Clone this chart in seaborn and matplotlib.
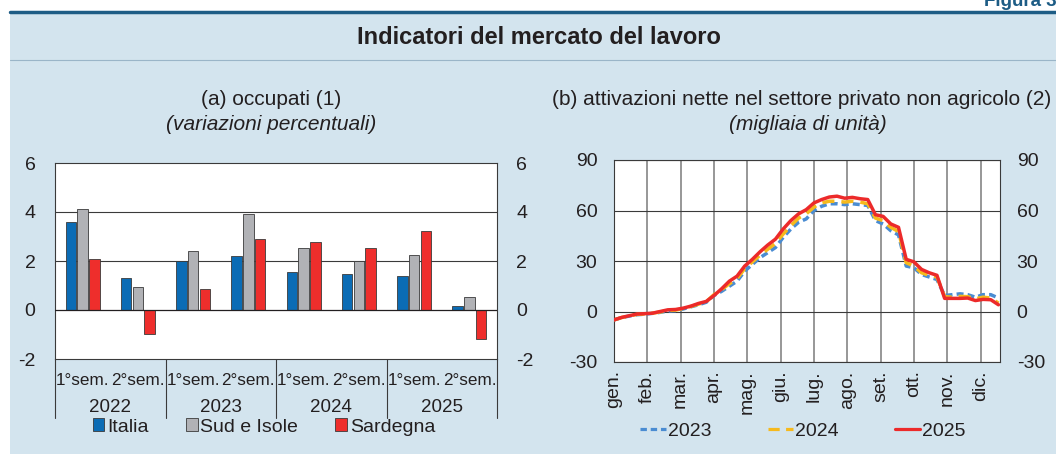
import matplotlib
matplotlib.use('Agg')
import matplotlib.pyplot as plt
import matplotlib.transforms as mtransforms
from matplotlib.lines import Line2D
from matplotlib.patches import Patch, Rectangle
import seaborn as sns
import pandas as pd

# pannello (a): occupati, variazioni percentuali
anni = ['2022', '2023', '2024', '2025']
semestri = ['1°sem.', '2°sem.']
serie_bar = ['Italia', 'Sud e Isole', 'Sardegna']
italia = [3.59, 1.31, 2.00, 2.21, 1.54, 1.45, 1.39, 0.17]
sud_isole = [4.11, 0.94, 2.39, 3.90, 2.54, 2.00, 2.25, 0.52]
sardegna = [2.08, -0.97, 0.86, 2.90, 2.79, 2.54, 3.21, -1.20]

# pannello (b): attivazioni nette, migliaia di unita' (dati settimanali)
mesi = ['gen.', 'feb.', 'mar.', 'apr.', 'mag.', 'giu.', 'lug.', 'ago.',
        'set.', 'ott.', 'nov.', 'dic.']
settimane = list(range(51))
att_2023 = [-5, -3.6, -2.7, -1.9, -1.6, -1.1, -0.5, 0.3, 0.5, 1.5,
            2.8, 4.0, 5.5, 9.5, 12, 15, 18, 24, 28, 32,
            35, 38, 44, 49, 53, 55, 60, 62.5, 64, 64,
            63.5, 64, 63.5, 63, 54, 52, 48, 45.5, 27, 26,
            22, 20.5, 19, 9.5, 10, 10.5, 10, 8.5, 10, 10,
            8]
att_2024 = [-5, -3.6, -2.6, -1.7, -1.5, -1.0, -0.3, 0.6, 0.8, 1.8,
            3.0, 4.4, 5.8, 10, 13, 16.5, 19.5, 25.5, 29.5, 33.5,
            37, 40.5, 46, 51, 55.5, 58, 62, 64.5, 65.5, 65.5,
            65, 65.5, 65, 64, 55.5, 54, 50, 47.5, 29, 27,
            23, 21.5, 20.5, 8.8, 8.5, 9, 8.8, 7.5, 8.5, 8,
            5]
att_2025 = [-5, -3.5, -2.5, -1.5, -1.3, -1.0, 0.0, 1.0, 1.2, 2.0,
            3.2, 4.8, 6.0, 9.5, 13.5, 18, 21, 27, 31, 35.5,
            39.5, 43, 49, 54, 58, 60.5, 64.5, 66.5, 68, 68.5,
            67.3, 67.8, 67, 66.5, 57.5, 56.5, 52, 50, 31, 29.5,
            25, 23, 21.5, 7.8, 7.8, 7.8, 8, 6.5, 7.2, 7,
            4]

sfondo = '#d3e4ee'
colori_bar = {'Italia': '#0b6cb5', 'Sud e Isole': '#b1b2b6', 'Sardegna': '#ee2e2c'}
colori_lin = {'2023': '#4a8cd2', '2024': '#f6b91c', '2025': '#ec2a2a'}
tratti = {'2023': (2, 1.2), '2024': (3.5, 2), '2025': ''}

periodi = [f'{a} {s}' for a in anni for s in semestri]
df_bar = pd.DataFrame({
    'periodo': periodi * 3,
    'serie': [s for s in serie_bar for _ in periodi],
    'valore': italia + sud_isole + sardegna,
})
df_lin = pd.DataFrame({
    'settimana': settimane * 3,
    'anno': [a for a in colori_lin for _ in settimane],
    'valore': att_2023 + att_2024 + att_2025,
})

sns.set_theme(style='white')
plt.rcParams['font.family'] = ['Liberation Sans', 'DejaVu Sans']
plt.rcParams['axes.unicode_minus'] = False
plt.rcParams['text.color'] = '#231f20'
plt.rcParams['xtick.color'] = '#231f20'
plt.rcParams['ytick.color'] = '#231f20'

W, H = 1056, 454
fig = plt.figure(figsize=(W / 100, H / 100), dpi=100)
fig.patch.set_facecolor('white')

# fondo azzurro, filetto superiore e separatore del titolo
fig.patches.append(Rectangle((10 / W, 0), 1, 1 - 13 / H, transform=fig.transFigure,
                             facecolor=sfondo, edgecolor='none', zorder=-10))
fig.lines.append(Line2D([10 / W, 1], [1 - 12 / H] * 2, transform=fig.transFigure,
                        color='#1d5c85', lw=2.5))
fig.lines.append(Line2D([10 / W, 1], [1 - 60 / H] * 2, transform=fig.transFigure,
                        color='#9ab5c8', lw=0.8))
fig.text(984 / W, 1 - 1 / H, 'Figura 3.', ha='left', va='center', fontsize=13.5,
         weight='bold', color='#1d5c85')
fig.text(539 / W, 1 - 37 / H, 'Indicatori del mercato del lavoro', ha='center',
         va='center', fontsize=17, weight='bold')

fig.text(271 / W, 1 - 100 / H, '(a) occupati (1)', ha='center', va='center', fontsize=15)
fig.text(271 / W, 1 - 125 / H, '(variazioni percentuali)', ha='center', va='center',
         fontsize=15, style='italic')
fig.text(802 / W, 1 - 100 / H, '(b) attivazioni nette nel settore privato non agricolo (2)',
         ha='center', va='center', fontsize=15)
fig.text(808 / W, 1 - 125 / H, '(migliaia di unità)', ha='center', va='center',
         fontsize=15, style='italic')

# ---- pannello (a)
ax1 = fig.add_axes([55 / W, 1 - 359 / H, 442 / W, 196 / H])
ax1.set_facecolor('white')
sns.barplot(data=df_bar, x='periodo', y='valore', hue='serie', order=periodi,
            hue_order=serie_bar, palette=colori_bar, saturation=1, width=0.64,
            gap=0.12, edgecolor='#3a3a3a', linewidth=0.6, ax=ax1, legend=False,
            zorder=3)
ax1.set_ylim(-2, 6)
ax1.set_yticks([-2, 0, 2, 4, 6])
ax1.set_xlim(-0.5, 7.5)
for v in [2, 4]:
    ax1.axhline(v, color='#3a3a3a', lw=0.8, zorder=1)
ax1.axhline(0, color='#231f20', lw=0.9, zorder=4)
ax1.set_xticks(range(len(periodi)))
ax1.set_xticklabels(semestri * len(anni), fontsize=12.3)
ax1.tick_params(axis='x', length=0, pad=10)
ax1.tick_params(axis='y', length=0, labelsize=14, labelright=True, pad=14)
ax1.set_xlabel('')
ax1.set_ylabel('')
for sp in ax1.spines.values():
    sp.set_color('#3a3a3a')
    sp.set_linewidth(0.8)

trans = mtransforms.blended_transform_factory(ax1.transData, ax1.transAxes)
for i, anno in enumerate(anni):
    ax1.text(2 * i + 0.5, -0.25, anno, transform=trans, ha='center', va='center',
             fontsize=13.5)
for xs in [-0.5, 1.5, 3.5, 5.5, 7.5]:
    ax1.add_line(Line2D([xs, xs], [0, -0.30], transform=trans, color='#3a3a3a',
                        lw=0.8, clip_on=False))

h1 = [Patch(facecolor=colori_bar[s], edgecolor='#3a3a3a', lw=0.6) for s in serie_bar]
fig.legend(h1, serie_bar, loc='center', bbox_to_anchor=(264 / W, 1 - 427 / H),
           ncol=3, frameon=False, fontsize=14, handlelength=0.6, handleheight=0.6,
           handletextpad=0.15, columnspacing=1.9)

# ---- pannello (b)
ax2 = fig.add_axes([614 / W, 1 - 362 / H, 386 / W, 202 / H])
ax2.set_facecolor('white')
sns.lineplot(data=df_lin, x='settimana', y='valore', hue='anno', style='anno',
             palette=colori_lin, dashes=tratti, linewidth=2.5, ax=ax2, legend=False,
             zorder=3)
ax2.set_ylim(-30, 90)
ax2.set_yticks([-30, 0, 30, 60, 90])
ax2.set_xlim(0, 50.2)
ax2.set_xticks([i * 52 / 12 for i in range(12)])
ax2.set_xticklabels(mesi, rotation=90, fontsize=14)
ax2.grid(True, axis='x', color='#7a7a7a', lw=1.1)
ax2.grid(True, axis='y', color='#3a3a3a', lw=0.8)
ax2.tick_params(axis='x', length=0, pad=6)
ax2.tick_params(axis='y', length=0, labelsize=14, labelright=True, pad=12)
ax2.set_xlabel('')
ax2.set_ylabel('')
for sp in ax2.spines.values():
    sp.set_color('#3a3a3a')
    sp.set_linewidth(0.8)

h2 = [Line2D([], [], color=colori_lin['2023'], lw=2.3, dashes=tratti['2023']),
      Line2D([], [], color=colori_lin['2024'], lw=2.3, dashes=tratti['2024']),
      Line2D([], [], color=colori_lin['2025'], lw=2.3)]
fig.legend(h2, list(colori_lin), loc='center', bbox_to_anchor=(803 / W, 1 - 431 / H),
           ncol=3, frameon=False, fontsize=14, handlelength=1.3, handletextpad=0.1,
           columnspacing=2.9)

fig.savefig('out.png', dpi=100, facecolor=fig.get_facecolor())
